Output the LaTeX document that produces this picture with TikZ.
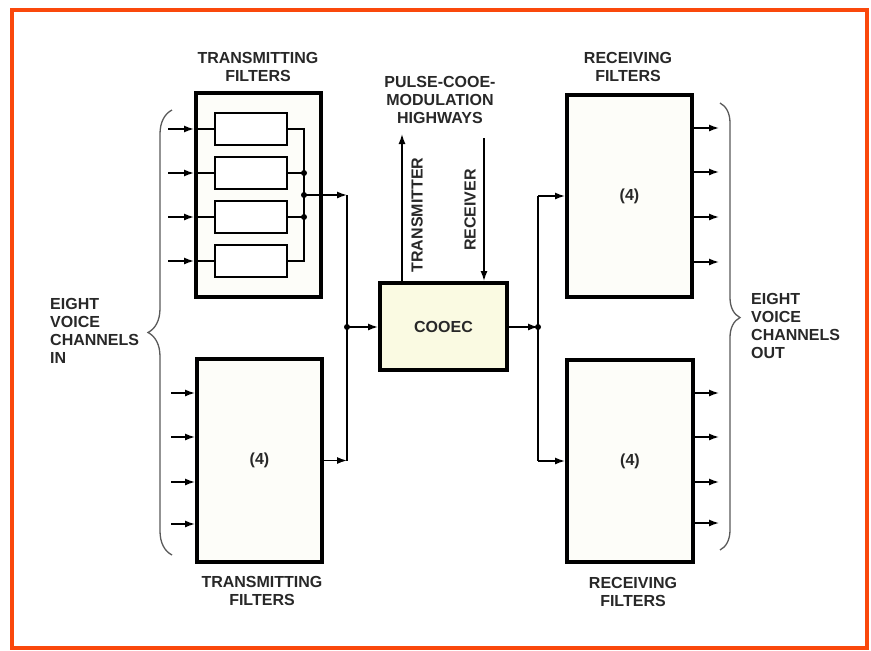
\documentclass[tikz,border=0pt]{standalone}
\usepackage{fontspec}
\setmainfont{Liberation Sans}
\usetikzlibrary{arrows.meta,decorations.pathreplacing}
\definecolor{frameor}{RGB}{250,72,12}
\definecolor{ink}{RGB}{40,40,40}
\definecolor{boxfill}{RGB}{253,253,249}
\definecolor{codecfill}{RGB}{250,250,226}
\definecolor{bracegray}{RGB}{90,90,90}
\begin{document}
\begin{tikzpicture}[x=1pt,y=-1pt,
  bigbox/.style={draw=black,line width=4pt,fill=boxfill,inner sep=0pt,rectangle},
  subbox/.style={draw=black,line width=2.6pt,fill=white,inner sep=0pt,rectangle,minimum width=72pt,minimum height=32pt},
  wire/.style={draw=black,line width=1.4pt},
  arr/.style={wire,-{Latex[length=10pt,width=7pt]}},
  jdot/.style={circle,fill=black,inner sep=0pt,minimum size=6pt},
  lbl/.style={font=\fontsize{16}{18}\selectfont\bfseries,text=ink,inner sep=0pt},
  brc/.style={draw=bracegray,line width=1.3pt,decorate},
]
\useasboundingbox (0,0) rectangle (871,651);
\fill[white] (0,0) rectangle (871,651);
\draw[frameor,line width=4.5pt] (12,10) rectangle (867,648);

% boxes
\node[bigbox,minimum width=125pt,minimum height=204pt] (TF1) at (258.5,195) {};
\node[subbox] (f1) at (251,129) {};
\node[subbox] (f2) at (251,173) {};
\node[subbox] (f3) at (251,217) {};
\node[subbox] (f4) at (251,261) {};
\node[bigbox,minimum width=125pt,minimum height=203pt] (TF2) at (259.5,460.5) {};
\node[lbl] at (TF2.center) {(4)};
\node[bigbox,fill=codecfill,minimum width=127pt,minimum height=87pt] (COD) at (443.5,326.5) {};
\node[lbl] at (COD.center) {COOEC};
\node[bigbox,minimum width=125pt,minimum height=202pt] (RF1) at (629.5,196) {};
\node[lbl] (n4a) at (RF1.center) {(4)};
\node[bigbox,minimum width=126pt,minimum height=202pt] (RF2) at (630,461) {};
\node[lbl] (n4b) at (RF2.center) {(4)};

% inputs to top transmitting filters
\foreach \i in {1,2,3,4}{
  \coordinate (a\i) at ([xshift=-26pt]TF1.west |- f\i.west);
  \draw[arr] (a\i) -- (TF1.west |- f\i.west);
  \draw[wire] (TF1.west |- f\i.west) -- (f\i.west);
}
% bus
\coordinate (bt) at (304,129);
\coordinate (bb) at (304,261);
\coordinate (bo) at (304,195);
\draw[wire] (f1.east) -- (bt) -- (bb) -- (f4.east);
\draw[wire] (f2.east) -- (f2.east -| bt) node[jdot] {};
\draw[wire] (f3.east) -- (f3.east -| bt) node[jdot] {};
\node[jdot] at (bo) {};
% left junction
\coordinate (jl1) at (347,195);
\coordinate (jl2) at (347,460.5);
\coordinate (jlc) at (347,327);
\draw[arr] (bo) -- (jl1);
\draw[wire] (jl1) -- (jl2);
\draw[arr] (TF2.east) -- (jl2);
\node[jdot] at (jlc) {};
\draw[arr] (jlc) -- (COD.west |- jlc);

% inputs to bottom transmitting filters
\foreach \y [count=\i] in {393,437,482,524}{
  \coordinate (b\i) at (171,\y);
  \draw[arr] (b\i) -- (TF2.west |- b\i);
}

% right junction
\coordinate (jrc) at (538,327);
\coordinate (jr1) at (538,196);
\coordinate (jr2) at (538,461);
\draw[arr] (COD.east |- jrc) -- (jrc);
\node[jdot] at (jrc) {};
\draw[wire] (jr1) -- (jr2);
\draw[arr] (jr1) -- (RF1.west);
\draw[arr] (jr2) -- (RF2.west);

% outputs
\foreach \y [count=\i] in {128,172,217,262}{
  \coordinate (c\i) at (719,\y);
  \draw[arr] (RF1.east |- c\i) -- (c\i);
}
\foreach \y [count=\i] in {393,437,482,523}{
  \coordinate (d\i) at (719,\y);
  \draw[arr] (RF2.east |- d\i) -- (d\i);
}

% highways
\coordinate (tx) at (402,134);
\coordinate (rx) at (484,138);
\draw[arr] (tx |- COD.north) -- (tx);
\draw[arr] (rx) -- (rx |- COD.north);
\node[lbl,rotate=90] at (417,215) {TRANSMITTER};
\node[lbl,rotate=90] at (470,210) {RECEIVER};
\node[lbl,align=center] at (440,100) {PULSE-COOE-\\MODULATION\\HIGHWAYS};

% filter labels
\node[lbl,align=center] at (258,67) {TRANSMITTING\\FILTERS};
\node[lbl,align=center] at (262,591) {TRANSMITTING\\FILTERS};
\node[lbl,align=center] at (628,67) {RECEIVING\\FILTERS};
\node[lbl,align=center] at (633,592) {RECEIVING\\FILTERS};

% braces
\coordinate (lb1) at (172,555);
\coordinate (lb2) at (172,110);
\draw[brc,decoration={brace,amplitude=24pt}] (lb1) -- (lb2);
\coordinate (rb1) at (720,103);
\coordinate (rb2) at (720,550);
\draw[brc,decoration={brace,amplitude=20pt,aspect=0.48}] (rb1) -- (rb2);
\node[lbl,align=left,anchor=west] at (50,331) {EIGHT\\VOICE\\CHANNELS\\IN};
\node[lbl,align=left,anchor=west] at (751,326) {EIGHT\\VOICE\\CHANNELS\\OUT};
\end{tikzpicture}
\end{document}
